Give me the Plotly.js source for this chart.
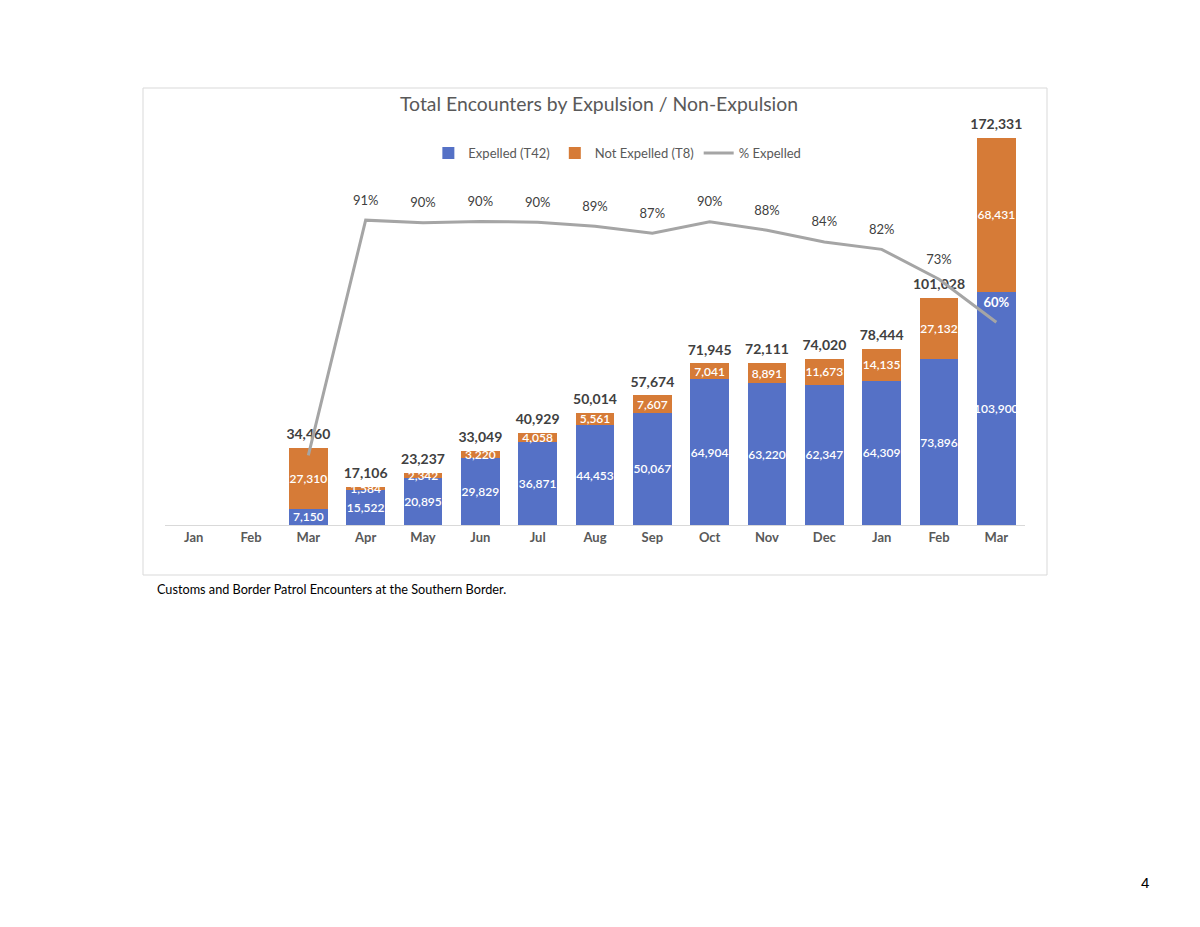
<!DOCTYPE html>
<html>
<head>
<meta charset="utf-8">
<script src="https://cdn.plot.ly/plotly-3.0.1.min.js"></script>
<style>
  html, body { margin: 0; padding: 0; background: #ffffff; }
  #chart { width: 1200px; height: 927px; }
</style>
</head>
<body>
<div id="chart"></div>
<script>
// ---- Data ----
const monthLabels = ["Jan", "Feb", "Mar", "Apr", "May", "Jun", "Jul", "Aug", "Sep", "Oct", "Nov", "Dec", "Jan", "Feb", "Mar"];
const expelled    = [null, null, 7150, 15522, 20895, 29829, 36871, 44453, 50067, 64904, 63220, 62347, 64309, 73896, 103900];
const notExpelled = [null, null, 27310, 1584, 2342, 3220, 4058, 5561, 7607, 7041, 8891, 11673, 14135, 27132, 68431];
const totals      = [null, null, 34460, 17106, 23237, 33049, 40929, 50014, 57674, 71945, 72111, 74020, 78444, 101028, 172331];
const pctExpelled = [null, null, 0.207, 0.907, 0.899, 0.903, 0.901, 0.889, 0.868, 0.902, 0.877, 0.842, 0.820, 0.731, 0.603];
const pctLabels   = ["", "", "", "91%", "90%", "90%", "90%", "89%", "87%", "90%", "88%", "84%", "82%", "73%", "60%"];

const xIdx = monthLabels.map((_, i) => i);
const fmt = v => (v == null ? "" : v.toLocaleString("en-US"));

const FONT = "Lato, 'Open Sans', sans-serif";
const BLUE = "#5571C6";
const ORANGE = "#D67B37";
const GRAY = "#A5A5A5";

const traces = [
  {
    type: "bar", name: "Expelled (T42)", x: xIdx, y: expelled,
    marker: { color: BLUE },
    text: expelled.map(fmt), textposition: "inside", insidetextanchor: "middle",
    textangle: 0, constraintext: "none",
    insidetextfont: { color: "#ffffff", size: 12, family: FONT, weight: 600 },
    hoverinfo: "y"
  },
  {
    type: "bar", name: "Not Expelled (T8)", x: xIdx, y: notExpelled,
    marker: { color: ORANGE },
    text: notExpelled.map(fmt), textposition: "inside", insidetextanchor: "middle",
    textangle: 0, constraintext: "none",
    insidetextfont: { color: "#ffffff", size: 12, family: FONT, weight: 600 },
    hoverinfo: "y"
  },
  {
    type: "scatter", mode: "lines", name: "% Expelled", x: xIdx, y: pctExpelled,
    yaxis: "y2",
    line: { color: GRAY, width: 3 },
    connectgaps: false, hoverinfo: "y"
  },
  {
    type: "scatter", mode: "markers+text", x: xIdx, y: pctExpelled, yaxis: "y2", showlegend: false,
    marker: { size: 18, opacity: 0, color: GRAY },
    text: pctLabels, textposition: "top center",
    textfont: {
      family: FONT, size: 13,
      color: pctLabels.map((_, i) => (i === 14 ? "#ffffff" : "#404040")),
      weight: pctLabels.map((_, i) => (i === 14 ? 700 : 400))
    },
    cliponaxis: false, hoverinfo: "skip"
  },
  {
    type: "scatter", mode: "markers+text", x: xIdx, y: totals, showlegend: false,
    marker: { size: 7, opacity: 0, color: "#404040" },
    text: totals.map(fmt), textposition: "top center",
    textfont: { family: FONT, size: 14, color: "#404040", weight: 700 },
    cliponaxis: false, hoverinfo: "skip"
  }
];

const layout = {
  width: 1200, height: 927,
  margin: { l: 165, r: 175, t: 125, b: 402 },
  paper_bgcolor: "#ffffff", plot_bgcolor: "rgba(0,0,0,0)",
  font: { family: FONT, color: "#595959" },
  barmode: "stack", bargap: 0.32,
  showlegend: true,
  title: {
    text: "Total Encounters by Expulsion / Non-Expulsion",
    font: { family: FONT, size: 19.4, color: "#595959" },
    x: 0.4992, xanchor: "center", y: 1 - 104 / 927, yanchor: "middle"
  },
  legend: {
    orientation: "h", x: 0.526, xanchor: "center", y: 0.93, yanchor: "middle",
    font: { family: FONT, size: 13, color: "#595959" },
    bgcolor: "rgba(0,0,0,0)", traceorder: "normal"
  },
  xaxis: {
    range: [-0.5, 14.5], tickvals: xIdx, ticktext: monthLabels,
    showline: true, linecolor: "#D9D9D9", linewidth: 1,
    showgrid: false, zeroline: false, ticks: "",
    tickfont: { family: FONT, size: 13, color: "#595959", weight: 700 },
    fixedrange: true
  },
  yaxis: { range: [0, 178120], visible: false, fixedrange: true },
  yaxis2: { range: [0, 1.19], overlaying: "y", side: "right", visible: false, fixedrange: true },
  shapes: [
    {
      type: "rect", xref: "paper", yref: "paper",
      x0: (143 - 165) / 860, x1: (1047 - 165) / 860,
      y0: (525 - 575) / 400, y1: (525 - 88) / 400,
      line: { color: "#D9D9D9", width: 1 }, fillcolor: "rgba(0,0,0,0)", layer: "below"
    }
  ],
  annotations: [
    {
      xref: "paper", yref: "paper", x: (155 - 165) / 860, y: (525 - 589) / 400,
      xanchor: "left", yanchor: "middle", showarrow: false,
      text: "Customs and Border Patrol Encounters at the Southern Border.",
      font: { family: FONT, size: 12.7, color: "#000000" }
    },
    {
      xref: "paper", yref: "paper", x: (1145 - 165) / 860, y: (525 - 882) / 400,
      xanchor: "center", yanchor: "middle", showarrow: false,
      text: "4", font: { family: "'Liberation Sans', Arial, sans-serif", size: 15, color: "#000000" }
    }
  ]
};

Plotly.newPlot("chart", traces, layout, { displayModeBar: false, staticPlot: true });
</script>
</body>
</html>
